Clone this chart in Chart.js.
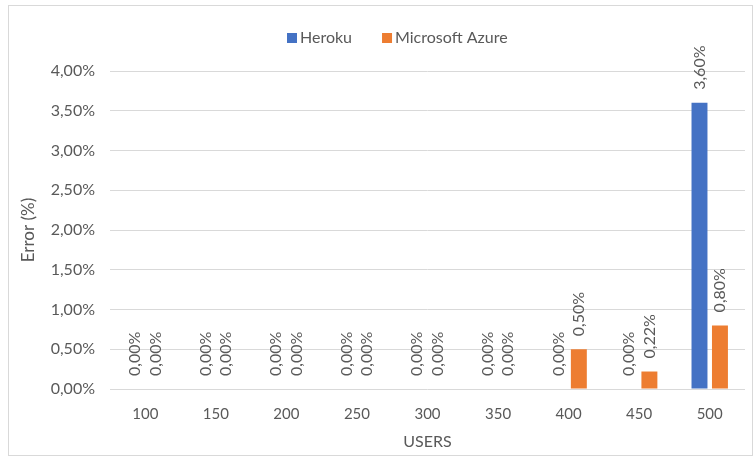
<!DOCTYPE html>
<html>
<head>
<meta charset="utf-8">
<script src="https://cdn.jsdelivr.net/npm/chart.js@4"></script>
<style>
  body { margin: 0; background: #fff; }
  #box { position: absolute; left: 8px; top: 5px; width: 743px; height: 449px; border: 1px solid #d9d9d9; }
</style>
</head>
<body>
<div id="box"><canvas id="graph" width="743" height="449"></canvas></div>
<script>
// Data
var users = ['100', '150', '200', '250', '300', '350', '400', '450', '500'];
var heroku = [0, 0, 0, 0, 0, 0, 0, 0, 3.60];
var azure = [0, 0, 0, 0, 0, 0, 0.50, 0.22, 0.80];
var yTicks = [0, 0.5, 1, 1.5, 2, 2.5, 3, 3.5, 4];

var FONT = 'Lato';
var GREY = '#595959';

function pct(v) {
    return v.toFixed(2).replace('.', ',') + '%';
}

// Value labels, rotated, above each bar
var barLabels = {
    id: 'barLabels',
    afterDatasetsDraw: function (chart) {
        var ctx = chart.ctx;
        ctx.save();
        ctx.font = '16px ' + FONT;
        ctx.fillStyle = GREY;
        ctx.textAlign = 'left';
        ctx.textBaseline = 'middle';
        chart.data.datasets.forEach(function (ds, i) {
            chart.getDatasetMeta(i).data.forEach(function (bar, j) {
                ctx.save();
                ctx.translate(bar.x, bar.y - 13);
                ctx.rotate(-Math.PI / 2);
                ctx.fillText(pct(ds.data[j]), 0, 0);
                ctx.restore();
            });
        });
        ctx.restore();
    }
};

// Legend drawn by hand so it sits where the original has it
var legendBox = {
    id: 'legendBox',
    afterDraw: function (chart) {
        var ctx = chart.ctx;
        ctx.save();
        ctx.font = '16px ' + FONT;
        ctx.textBaseline = 'middle';
        var x = 278;
        var y = 32;
        chart.data.datasets.forEach(function (ds) {
            ctx.fillStyle = ds.backgroundColor;
            ctx.fillRect(x, y - 5, 10, 10);
            x += 13;
            ctx.fillStyle = GREY;
            ctx.fillText(ds.label, x, y);
            x += ctx.measureText(ds.label).width + 30;
        });
        ctx.restore();
    }
};

new Chart(document.getElementById('graph'), {
    type: 'bar',
    data: {
        labels: users,
        datasets: [
            { label: 'Heroku', data: heroku, backgroundColor: '#4472c4', categoryPercentage: 0.58, barPercentage: 0.78 },
            { label: 'Microsoft Azure', data: azure, backgroundColor: '#ed7d31', categoryPercentage: 0.58, barPercentage: 0.78 }
        ]
    },
    options: {
        responsive: false,
        animation: false,
        layout: { padding: { top: 65, right: 7, left: 0, bottom: 0 } },
        plugins: {
            legend: { display: false },
            tooltip: { enabled: false }
        },
        scales: {
            x: {
                grid: { display: false },
                border: { display: false },
                ticks: { color: GREY, font: { family: FONT, size: 15 }, padding: 8 },
                title: { display: true, text: 'USERS', color: GREY, font: { family: FONT, size: 16 }, padding: { top: 4, bottom: 4 } },
                afterFit: function (scale) { scale.height = 66; }
            },
            y: {
                min: 0,
                max: 4,
                afterBuildTicks: function (scale) {
                    scale.ticks = yTicks.map(function (v) { return { value: v }; });
                },
                grid: { color: '#d9d9d9', drawTicks: false },
                border: { display: false },
                ticks: {
                    color: GREY,
                    font: { family: FONT, size: 16 },
                    padding: 15,
                    callback: function (v) { return pct(v); }
                },
                title: { display: true, text: 'Error (%)', color: GREY, font: { family: FONT, size: 17 }, padding: { top: 9, bottom: 0 } },
                afterFit: function (scale) { scale.width = 101; }
            }
        }
    },
    plugins: [barLabels, legendBox]
});
</script>
</body>
</html>
